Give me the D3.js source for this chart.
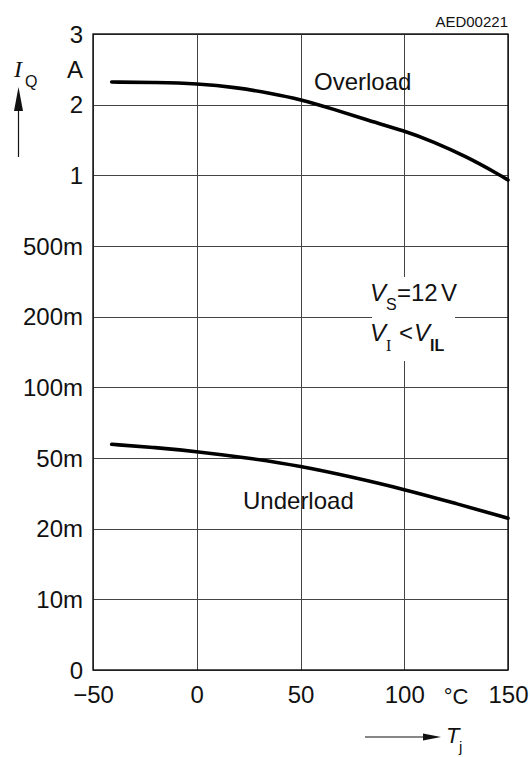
<!DOCTYPE html>
<html>
<head>
<meta charset="utf-8">
<script src="https://cdn.jsdelivr.net/npm/d3@7"></script>
<style>
  html, body { margin: 0; padding: 0; background: #fff; }
  svg { display: block; }
  text { font-family: "Liberation Sans", Arial, sans-serif; fill: #111; }
  .grid line { stroke: #444; stroke-width: 1; shape-rendering: crispEdges; }
  .grid path { display: none; }
  .curve { fill: none; stroke: #000; stroke-width: 3.6; stroke-linecap: round; }
</style>
</head>
<body>
<svg id="chart" width="530" height="757"></svg>
<script>
  // junction temperature ticks (degC)
  const xTicks = [-50, 0, 50, 100, 150];
  // current thresholds on the stretched current axis (A)
  const yTicks = [0, 0.01, 0.02, 0.05, 0.1, 0.2, 0.5, 1, 2, 3];
  const yTickLabels = ['0', '10m', '20m', '50m', '100m', '200m', '500m', '1', '2', '3'];

  // overload threshold I_Q(L) vs Tj
  const overloadT = [-41, -20, 0, 20, 35, 50, 66, 82, 100, 114, 130, 146, 150];
  const overloadI = [2.32, 2.315, 2.30, 2.24, 2.165, 2.076, 1.935, 1.783, 1.63, 1.476, 1.264, 1.005, 0.967];

  // underload threshold I_Q(U) vs Tj
  const underloadT = [-41, -20, 0, 25, 50, 75, 100, 125, 150];
  const underloadI = [0.0597, 0.0574, 0.0546, 0.050, 0.0466, 0.0419, 0.0367, 0.0307, 0.0244];

  const margin = { top: 34, right: 22, bottom: 87, left: 93 };
  const W = 530, H = 757;
  const innerW = W - margin.left - margin.right;
  const innerH = H - margin.top - margin.bottom;

  const svg = d3.select('#chart');
  const g = svg.append('g').attr('transform', `translate(${margin.left},${margin.top})`);

  const x = d3.scaleLinear().domain([-50, 150]).range([0, innerW]);

  // equally spaced rows for every threshold, linear in between
  const rows = d3.scalePoint().domain(yTicks.map(String)).range([innerH, 0]);
  const y = d3.scaleLinear()
    .domain(yTicks)
    .range(yTicks.map(d => rows(String(d))));

  // grid
  g.append('g')
    .attr('class', 'grid')
    .attr('transform', `translate(0,${innerH})`)
    .call(d3.axisBottom(x).tickValues(xTicks).tickSize(-innerH).tickFormat(''));

  g.append('g')
    .attr('class', 'grid')
    .call(d3.axisLeft(y).tickValues(yTicks).tickSize(-innerW).tickFormat(''));

  // white box behind the condition note
  g.append('rect')
    .attr('x', 372 - margin.left)
    .attr('y', 277 - margin.top)
    .attr('width', 83)
    .attr('height', 84)
    .attr('fill', '#fff');

  // frame
  g.append('rect')
    .attr('width', innerW)
    .attr('height', innerH)
    .attr('fill', 'none')
    .attr('stroke', '#111')
    .attr('stroke-width', 1.4);

  // tick labels
  const yAxis = g.append('g')
    .call(d3.axisLeft(y).tickValues(yTicks).tickSize(0).tickPadding(10)
      .tickFormat((d, i) => yTickLabels[i]));
  yAxis.select('.domain').remove();
  yAxis.selectAll('text')
    .attr('font-size', 24)
    .attr('font-family', '"Liberation Sans", Arial, sans-serif')
    .attr('fill', '#111')
    .attr('dy', '0.34em');

  g.append('text')
    .attr('x', -10)
    .attr('y', (y(3) + y(2)) / 2)
    .attr('dy', '0.36em')
    .attr('text-anchor', 'end')
    .attr('font-size', 24)
    .text('A');

  const xAxis = g.append('g')
    .attr('transform', `translate(0,${innerH})`)
    .call(d3.axisBottom(x).tickValues(xTicks).tickSize(0).tickPadding(16)
      .tickFormat(d => d < 0 ? '\u2212' + Math.abs(d) : d));
  xAxis.select('.domain').remove();
  xAxis.selectAll('text')
    .attr('font-size', 24)
    .attr('font-family', '"Liberation Sans", Arial, sans-serif')
    .attr('fill', '#111');

  g.append('text')
    .attr('x', x(125))
    .attr('y', innerH + 34)
    .attr('text-anchor', 'middle')
    .attr('font-size', 22)
    .text('\u00B0C');

  // curves
  const line = d3.line()
    .x(d => x(d[0]))
    .y(d => y(d[1]))
    .curve(d3.curveBasis);

  g.append('path')
    .attr('class', 'curve')
    .attr('d', line(d3.zip(overloadT, overloadI)));

  g.append('path')
    .attr('class', 'curve')
    .attr('d', line(d3.zip(underloadT, underloadI)));

  // curve names
  svg.append('text')
    .attr('x', 314).attr('y', 90)
    .attr('font-size', 24)
    .text('Overload');

  svg.append('text')
    .attr('x', 243).attr('y', 509)
    .attr('font-size', 24)
    .text('Underload');

  // condition note
  const note1 = svg.append('text').attr('y', 301).attr('font-size', 24);
  note1.append('tspan').attr('x', 370).attr('font-style', 'italic').text('V');
  note1.append('tspan').attr('x', 386).attr('dy', 9).attr('font-size', 16).text('S');
  note1.append('tspan').attr('x', 397).attr('dy', -9).text('=');
  note1.append('tspan').attr('x', 411).text('12');
  note1.append('tspan').attr('x', 441).text('V');

  const note2 = svg.append('text').attr('y', 341).attr('font-size', 24);
  note2.append('tspan').attr('x', 370).attr('font-style', 'italic').text('V');
  note2.append('tspan').attr('x', 386).attr('dy', 10).attr('font-size', 16)
    .attr('font-family', '"Liberation Serif", serif').text('I');
  note2.append('tspan').attr('x', 399).attr('dy', -10).text('<');
  note2.append('tspan').attr('x', 414).attr('font-style', 'italic').text('V');
  note2.append('tspan').attr('x', 430).attr('dy', 10).attr('font-size', 16)
    .attr('font-weight', 'bold').text('IL');

  // drawing number
  svg.append('text')
    .attr('x', 508).attr('y', 27)
    .attr('text-anchor', 'end')
    .attr('font-size', 15)
    .text('AED00221');

  // y quantity with arrow
  svg.append('line')
    .attr('x1', 18.5).attr('x2', 18.5)
    .attr('y1', 157).attr('y2', 105)
    .attr('stroke', '#111').attr('stroke-width', 1.2);
  svg.append('path')
    .attr('d', 'M18.5,87 L23,111 L14,111 Z')
    .attr('fill', '#111');
  const yq = svg.append('text').attr('y', 77).attr('font-size', 24);
  yq.append('tspan').attr('x', 14).attr('font-style', 'italic')
    .attr('font-family', '"Liberation Serif", serif').text('I');
  yq.append('tspan').attr('x', 25).attr('dy', 10).attr('font-size', 16).text('Q');

  // x quantity with arrow
  svg.append('line')
    .attr('x1', 365).attr('x2', 425)
    .attr('y1', 737).attr('y2', 737)
    .attr('stroke', '#111').attr('stroke-width', 1.2);
  svg.append('path')
    .attr('d', 'M441,737 L423,733.5 L423,740.5 Z')
    .attr('fill', '#111');
  const xq = svg.append('text').attr('y', 743).attr('font-size', 22);
  xq.append('tspan').attr('x', 446).attr('font-style', 'italic').text('T');
  xq.append('tspan').attr('x', 459).attr('dy', 9).attr('font-size', 15).text('j');
</script>
</body>
</html>
